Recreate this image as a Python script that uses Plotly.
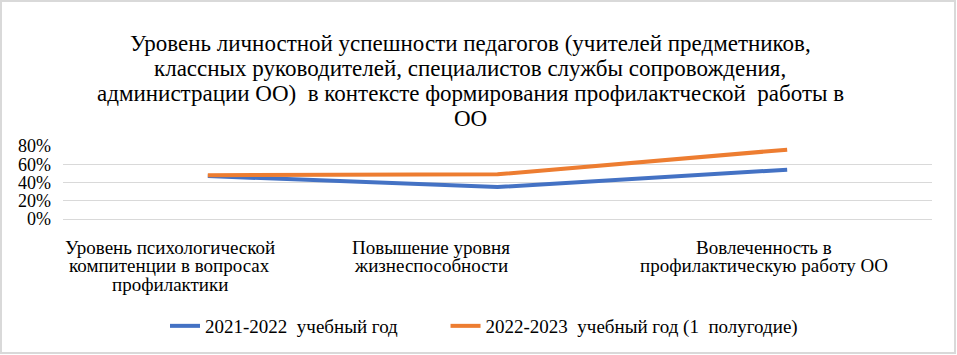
import plotly.graph_objects as go

categories = [
    "Уровень психологической<br>компитенции в вопросах<br>профилактики",
    "Повышение уровня<br>жизнеспособности",
    "Вовлеченность в<br>профилактическую работу ОО",
]
series_2021 = [0.47, 0.35, 0.54]
series_2022 = [0.48, 0.49, 0.76]
name_2021 = "2021-2022\u00a0 учебный год"
name_2022 = "2022-2023\u00a0 учебный год (1\u00a0 полугодие)"
title_lines = [
    "Уровень личностной успешности педагогов (учителей предметников,",
    "классных руководителей, специалистов службы сопровождения,",
    "администрации ОО)\u00a0 в контексте формирования профилактческой\u00a0 работы в",
    "ОО",
]

W, H = 957, 355
ml, mr, mt, mb = 63, 25, 146, 136
pw, ph = W - ml - mr, H - mt - mb

FONT = "Liberation Serif"
LEGEND_PAD = "\u00a0" * 9  # spacing between legend entries


def ypaper(ypix):
    return (mt + ph - ypix) / ph


def xpaper(xpix):
    return (xpix - ml) / pw


fig = go.Figure()
fig.add_trace(go.Scatter(x=categories, y=series_2021, mode="lines",
                         name=name_2021 + LEGEND_PAD,
                         line=dict(color="#4472C4", width=4)))
fig.add_trace(go.Scatter(x=categories, y=series_2022, mode="lines", name=name_2022,
                         line=dict(color="#ED7D31", width=4)))

fig.update_layout(
    width=W, height=H,
    margin=dict(l=ml, r=mr, t=mt, b=mb, autoexpand=False),
    paper_bgcolor="white", plot_bgcolor="white",
    font=dict(family=FONT, size=16, color="#000000"),
    xaxis=dict(showgrid=False, showline=False, ticks="", showticklabels=False,
               range=[-0.5, 2.5], automargin=False),
    yaxis=dict(range=[0, 0.8], dtick=0.2, tickformat=".0%", showgrid=True,
               gridcolor="#D9D9D9", gridwidth=1, zeroline=True,
               zerolinecolor="#D9D9D9", zerolinewidth=1, showline=False,
               ticks="", automargin=False, ticklabelstandoff=11,
               tickfont=dict(family=FONT, size=18)),
    legend=dict(orientation="h", x=xpaper(165), xanchor="left",
                y=ypaper(326), yanchor="middle",
                font=dict(family=FONT, size=19),
                traceorder="normal"),
    showlegend=True,
)

# Title lines (tight line spacing as in the reference)
title_centers = [43, 68, 93, 118]
for line, yc in zip(title_lines, title_centers):
    fig.add_annotation(text=line, xref="paper", yref="paper",
                       x=xpaper(470), y=ypaper(yc), xanchor="center", yanchor="middle",
                       showarrow=False, font=dict(family=FONT, size=23, color="#000000"))

# Category labels, line by line
label_shift = [-38, -67, -23]
line_centers = [247, 265.5, 284]
for cat, dx in zip(categories, label_shift):
    for line, yc in zip(cat.split("<br>"), line_centers):
        fig.add_annotation(text=line, xref="x", yref="paper", x=cat, y=ypaper(yc),
                           xshift=dx, xanchor="center", yanchor="middle",
                           showarrow=False, font=dict(family=FONT, size=19, color="#000000"))

fig.add_shape(type="rect", xref="paper", yref="paper",
              x0=xpaper(1), x1=xpaper(W - 2),
              y0=ypaper(H - 2), y1=ypaper(1),
              line=dict(color="#D9D9D9", width=2), fillcolor="rgba(0,0,0,0)",
              layer="below")

fig.write_html("out.html", config={"displayModeBar": False},
               post_script="document.body.style.margin='0';")
